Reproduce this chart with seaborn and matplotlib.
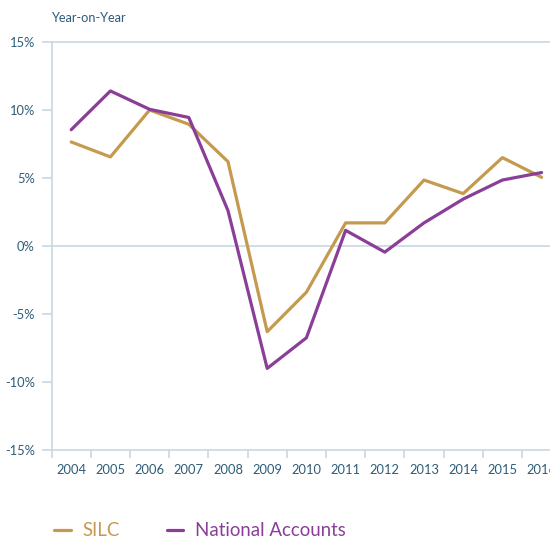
import matplotlib
matplotlib.use("Agg")
import matplotlib.pyplot as plt
import seaborn as sns
import pandas as pd
from matplotlib.ticker import FixedLocator, FuncFormatter

years = [2004, 2005, 2006, 2007, 2008, 2009, 2010, 2011, 2012, 2013, 2014, 2015, 2016]
silc = [7.65, 6.55, 10.0, 8.95, 6.2, -6.3, -3.4, 1.7, 1.7, 4.85, 3.85, 6.5, 5.05]
national_accounts = [8.55, 11.4, 10.05, 9.45, 2.6, -9.0, -6.75, 1.15, -0.45, 1.7, 3.45, 4.85, 5.4]
series_names = ["SILC", "National Accounts"]
y_ticks = [-15, -10, -5, 0, 5, 10, 15]

gold = "#C49A4E"
purple = "#8A3E98"
text_c = "#2D5C77"
grid_c = "#C9D8E0"

df = pd.DataFrame({
    "year": years * 2,
    "value": silc + national_accounts,
    "series": [series_names[0]] * len(years) + [series_names[1]] * len(years),
})

sns.set_style("white")
plt.rcParams["font.family"] = ["Lato", "DejaVu Sans"]

fig = plt.figure(figsize=(5.5, 5.41), dpi=100)
ax = fig.add_axes([51.6 / 550, 1 - 450 / 541, 509.6 / 550, 408 / 541])

sns.lineplot(data=df, x="year", y="value", hue="series", palette=[gold, purple],
             linewidth=2.3, ax=ax, legend=False)

ax.set_xlim(years[0] - 0.5, years[-1] + 0.5)
ax.set_ylim(-15, 15)
ax.set_xlabel("")
ax.set_ylabel("")

ax.axhline(0, color=grid_c, lw=1.2, zorder=0)

for s in ["right"]:
    ax.spines[s].set_visible(False)
for s in ["left", "bottom", "top"]:
    ax.spines[s].set_color(grid_c)
    ax.spines[s].set_linewidth(1.2)

ax.set_yticks(y_ticks)
ax.yaxis.set_major_formatter(FuncFormatter(lambda v, p: f"{int(v)}%"))
ax.tick_params(axis="y", which="major", length=7, width=1.2, color=grid_c,
               labelcolor=text_c, labelsize=9.3, pad=5, left=True)

ax.set_xticks(years)
ax.set_xticklabels([str(y) for y in years])
ax.xaxis.set_minor_locator(FixedLocator([y - 0.5 for y in years] + [years[-1] + 0.5]))
ax.tick_params(axis="x", which="major", length=0, labelcolor=text_c, labelsize=9.3, pad=10)
ax.tick_params(axis="x", which="minor", length=6, width=1.2, color=grid_c, bottom=True)

fig.text(52 / 550, 1 - 18 / 541, "Year-on-Year", color=text_c, fontsize=9.2,
         ha="left", va="center")

handles = [plt.Line2D([], [], color=gold, lw=2.3), plt.Line2D([], [], color=purple, lw=2.3)]
leg = fig.legend(handles, series_names, loc="center left",
                 bbox_to_anchor=(37 / 550, 1 - 531 / 541), ncol=2, frameon=False,
                 fontsize=13.4, handlelength=0.9, handletextpad=0.65, columnspacing=2.5)
for t, c in zip(leg.get_texts(), [gold, purple]):
    t.set_color(c)

fig.savefig("out.png", dpi=100)
